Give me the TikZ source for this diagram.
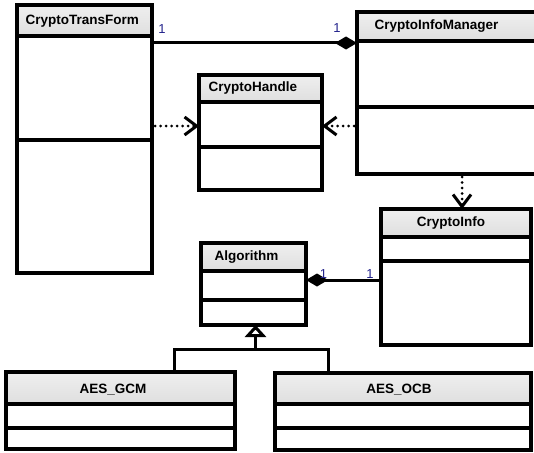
\documentclass[tikz,border=0pt]{standalone}
\usepackage{fontspec}
\setmainfont{Liberation Sans}
\usetikzlibrary{arrows.meta,fit}

% header: light grey gradient; compartments: white fading to grey at the bottom
\pgfdeclareverticalshading{headshade}{100bp}{color(0bp)=(black!16); color(100bp)=(black!3)}
\pgfdeclareverticalshading{compshade}{100bp}{color(0bp)=(black!12); color(22bp)=(white); color(100bp)=(white)}

\tikzset{
  border/.style={line width=3.2pt},
  classbox/.style={draw, line width=3.2pt, inner sep=0pt, outer sep=0pt},
  title/.style={font=\fontsize{13.5}{16}\selectfont\bfseries, inner sep=0pt},
  mult/.style={font=\fontsize{13}{15}\selectfont, text={rgb,255:red,35;green,35;blue,140}, inner sep=0pt},
  assoc/.style={line width=3pt},
  dep/.style={line width=3pt, line cap=round, dash pattern=on 0pt off 5.5pt, dash phase=2.5pt,
    -{Straight Barb[length=12pt,width=18pt,line width=3pt]}},
  comp/.tip={Diamond[length=22pt,width=13pt]},
  gen/.style={line width=3pt},
}

% #1 name, #2 left, #3 top, #4 right, #5 bottom, #6 header bottom, #7 separator
\newcommand\umlclass[7]{%
  \shade[shading=headshade] (#2,#3) rectangle (#4,#6);
  \shade[shading=compshade] (#2,#6) rectangle (#4,#7);
  \shade[shading=compshade] (#2,#7) rectangle (#4,#5);
  \node[classbox, fit={(#2,#3) (#4,#5)}] (#1) {};
  \draw[border] (#1.west |- 0,#6) -- (#1.east |- 0,#6);
  \draw[border] (#1.west |- 0,#7) -- (#1.east |- 0,#7);
}

\begin{document}
\begin{tikzpicture}[x=1pt,y=-1pt]
\path[use as bounding box] (0,0) rectangle (534,452);
\clip (0,0) rectangle (534,452);
\fill[white] (0,0) rectangle (534,452);

% classes
\umlclass{ctf}{17}{5}{152}{273}{36}{140}
\umlclass{cim}{357}{12}{570}{174}{41}{107}
\umlclass{ch}{199}{75}{322}{190}{102}{147}
\umlclass{ci}{381}{209}{531}{345}{237}{261}
\umlclass{alg}{201}{243}{306}{325}{271}{300}
\umlclass{gcm}{6}{372}{235}{449}{404}{428}
\umlclass{ocb}{275}{373}{531}{450}{404}{428}

% class names
\node[title, anchor=base west] (ctft) at (25.5,25) {CryptoTransForm};
\node[title, anchor=base west] (cimt) at (374.5,30) {CryptoInfoManager};
\node[title, anchor=base west] (cht)  at (208.5,91.5) {CryptoHandle};
\node[title, anchor=base]      (cit)  at (451,226) {CryptoInfo};
\node[title, anchor=base west] (algt) at (214.5,260) {Algorithm};
\node[title, anchor=base]      (gcmt) at (113,393) {AES\_GCM};
\node[title, anchor=base]      (ocbt) at (399,393) {AES\_OCB};

% composition CryptoTransForm -- CryptoInfoManager
\draw[assoc, -comp] (ctf.east |- 0,43) -- (cim.west |- 0,43);
\node[mult] (m1) at (162,29) {1};
\node[mult] (m2) at (337,28) {1};

% dependencies
\draw[dep] (ctf.east |- 0,126) -- (ch.west |- 0,126);
\draw[dep] (cim.west |- 0,126) -- (ch.east |- 0,126);
\draw[dep] (cim.south -| 462,0) -- (ci.north -| 462,0);

% composition Algorithm -- CryptoInfo
\draw[assoc, comp-] (alg.east |- 0,280) -- (ci.west |- 0,280);
\node[mult] (m3) at (323.5,274) {1};
\node[mult] (m4) at (370,274) {1};

% generalization
\coordinate (split) at (255.5,349);
\draw[gen, line join=miter] (gcm.north -| 174,0) |- (split) -| (ocb.north -| 328,0);
\draw[gen, -{Triangle[open, length=12pt, width=21pt, fill=white]}] (split) -- (alg.south -| split);
\end{tikzpicture}
\end{document}
